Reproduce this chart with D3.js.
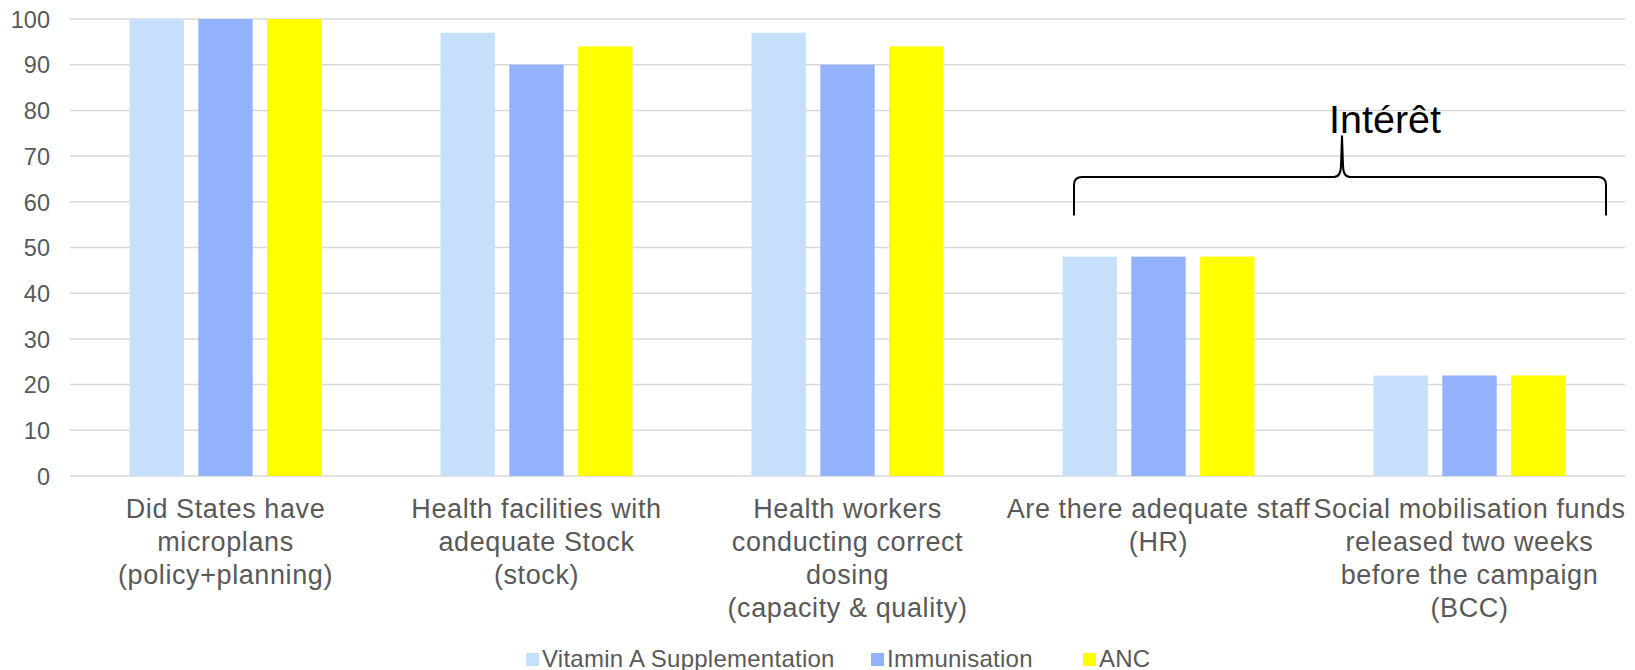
<!DOCTYPE html>
<html>
<head>
<meta charset="utf-8">
<script src="https://cdn.jsdelivr.net/npm/d3@7"></script>
<style>
  html, body { margin: 0; padding: 0; background: #fff; }
  svg { display: block; font-family: "Liberation Sans", Arial, sans-serif; }
</style>
</head>
<body>
<svg id="chart" width="1635" height="670"></svg>
<script>
const categories = [
  ["Did States have", "microplans", "(policy+planning)"],
  ["Health facilities with", "adequate Stock", "(stock)"],
  ["Health workers", "conducting correct", "dosing", "(capacity & quality)"],
  ["Are there adequate staff", "(HR)"],
  ["Social mobilisation funds", "released two weeks", "before the campaign", "(BCC)"]
];
const seriesNames = ["Vitamin A Supplementation", "Immunisation", "ANC"];
const vitaminA = [100, 97, 97, 48, 22];
const immunisation = [100, 90, 90, 48, 22];
const anc = [100, 94, 94, 48, 22];
const yTicks = [0, 10, 20, 30, 40, 50, 60, 70, 80, 90, 100];
const annotationText = "Intérêt";

(function() {
const colors = ["#c6e0fb", "#93b2fe", "#ffff00"];
const seriesValues = [vitaminA, immunisation, anc];

const svg = d3.select("#chart");
const plotLeft = 70, plotRight = 1625, plotTop = 19, plotBottom = 476;

const catIdx = categories.map((d, i) => i);
const x0 = d3.scaleBand().domain(catIdx).range([plotLeft, plotRight]).paddingInner(0).paddingOuter(0);
const x1 = d3.scaleBand().domain(d3.range(seriesNames.length))
  .range([0, x0.bandwidth()]).paddingInner(0.21).paddingOuter(0.865);
const y = d3.scaleLinear().domain([0, 100]).range([plotBottom, plotTop]);

// gridlines
svg.append("g").selectAll("line").data(yTicks).join("line")
  .attr("x1", plotLeft).attr("x2", plotRight)
  .attr("y1", d => y(d)).attr("y2", d => y(d))
  .attr("stroke", "#d9d9d9").attr("stroke-width", 1.5);

// y axis labels
const yAxis = d3.axisLeft(y).tickValues(yTicks).tickSize(0).tickPadding(0);
const yg = svg.append("g").attr("transform", `translate(50,0)`).call(yAxis);
yg.select(".domain").remove();
yg.selectAll("text").attr("fill", "#595959").attr("font-size", 23.5)
  .attr("font-family", "'Liberation Sans', Arial, sans-serif").attr("dy", "0.35em");

// bars
const groups = svg.append("g").selectAll("g").data(catIdx).join("g")
  .attr("transform", d => `translate(${x0(d)},0)`);
groups.selectAll("rect").data(ci => seriesValues.map((vals, si) => ({si, v: vals[ci]})))
  .join("rect")
  .attr("x", d => x1(d.si))
  .attr("width", x1.bandwidth())
  .attr("y", d => y(d.v))
  .attr("height", d => y(0) - y(d.v))
  .attr("fill", d => colors[d.si]);

// category labels
const labels = svg.append("g").selectAll("text").data(catIdx).join("text")
  .attr("x", d => x0(d) + x0.bandwidth() / 2)
  .attr("y", 518)
  .attr("text-anchor", "middle")
  .attr("fill", "#595959")
  .attr("font-size", 27)
  .attr("letter-spacing", 0.6);
labels.selectAll("tspan").data(d => categories[d]).join("tspan")
  .attr("x", function() { return d3.select(this.parentNode).attr("x"); })
  .attr("dy", (d, i) => i === 0 ? 0 : 33)
  .text(d => d);

// legend
const legendItems = [
  {i: 0, sx: 526},
  {i: 1, sx: 871},
  {i: 2, sx: 1083}
];
const lg = svg.append("g");
legendItems.forEach(it => {
  lg.append("rect").attr("x", it.sx).attr("y", 653).attr("width", 13).attr("height", 13)
    .attr("fill", colors[it.i]);
  lg.append("text").attr("x", it.sx + 16).attr("y", 666.5)
    .attr("fill", "#595959").attr("font-size", 24).attr("letter-spacing", 0.25)
    .text(seriesNames[it.i]);
});

// brace annotation
const bx1 = 1074, bx2 = 1606, bmid = 1342;
const yArm = y(65.4), yEnd = y(57), yTip = y(74.5);
const r = 8;
const bracePath = `M${bx1},${yEnd} L${bx1},${yArm + r} Q${bx1},${yArm} ${bx1 + r},${yArm}
  L${bmid - 8},${yArm} Q${bmid - 1},${yArm} ${bmid - 1},${yArm - 12} L${bmid},${yTip}
  L${bmid + 1},${yArm - 12} Q${bmid + 1},${yArm} ${bmid + 8},${yArm}
  L${bx2 - r},${yArm} Q${bx2},${yArm} ${bx2},${yArm + r} L${bx2},${yEnd}`;
svg.append("path").attr("d", bracePath).attr("fill", "none")
  .attr("stroke", "#000").attr("stroke-width", 2);
svg.append("text").attr("x", 1329).attr("y", 133)
  .attr("font-size", 39.5).attr("fill", "#000").text(annotationText);
})();
</script>
</body>
</html>
